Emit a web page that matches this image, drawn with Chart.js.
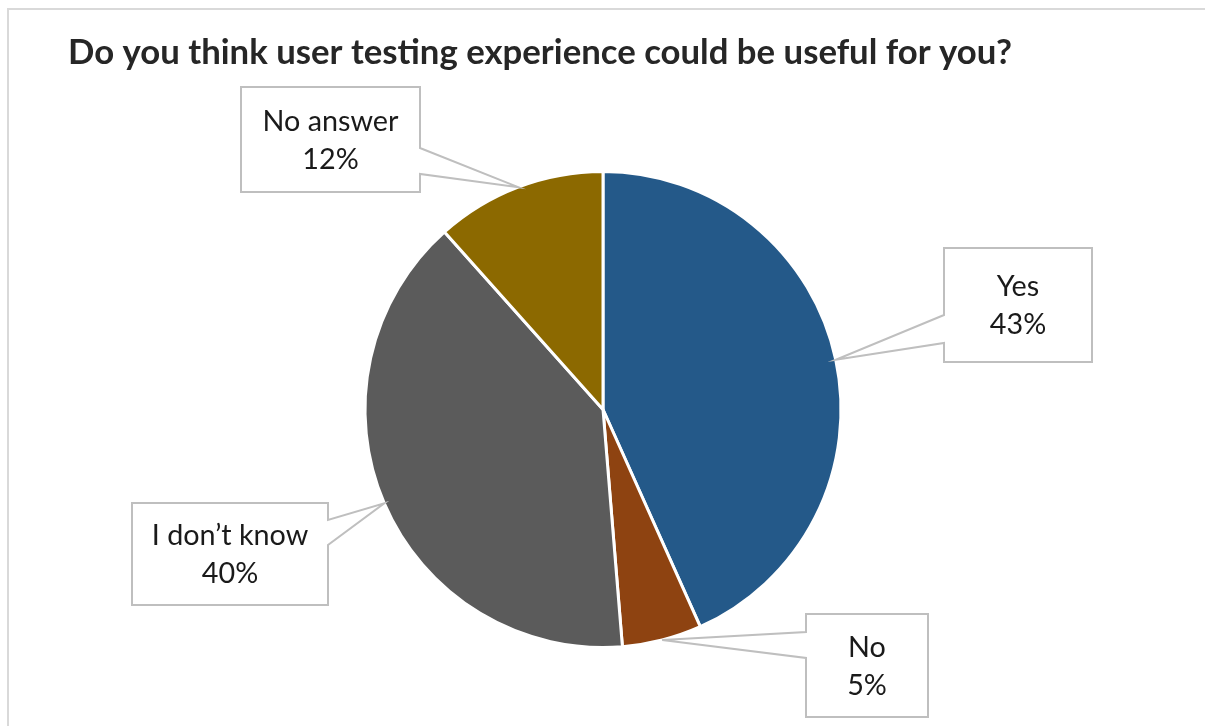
<!DOCTYPE html>
<html>
<head>
<meta charset="utf-8">
<script src="https://cdn.jsdelivr.net/npm/chart.js@4/dist/chart.umd.min.js"></script>
<style>
  html, body { margin: 0; padding: 0; background: #ffffff; }
  canvas { display: block; }
</style>
</head>
<body>
<canvas id="c" width="1205" height="726"></canvas>
<script>
// ---- data ----
const chartTitle = 'Do you think user testing experience could be useful for you?';
const categories = ['Yes', 'No', 'I don\u2019t know', 'No answer'];
const shares = [43.3, 5.4, 39.7, 11.6];
const sliceColors = ['#245989', '#8E4311', '#5B5B5B', '#8C6900'];

// ---- callout box layout (pixels) ----
const calloutLayout = [
  { x: 944, y: 248, w: 148, h: 114, side: 'left',  b0: 315, b1: 343 },
  { x: 806, y: 614, w: 122, h: 103, side: 'left',  b0: 632, b1: 658 },
  { x: 132, y: 503, w: 196, h: 102, side: 'right', b0: 520, b1: 545 },
  { x: 241, y: 87,  w: 179, h: 105, side: 'right', b0: 148, b1: 174 }
];

const FONT = 'Lato, "Open Sans", "DejaVu Sans", sans-serif';

function fitSize(ctx, text, weight, target, base) {
  ctx.font = weight + ' ' + base + 'px ' + FONT;
  const w = ctx.measureText(text).width;
  return base * target / w;
}

const decor = {
  id: 'decor',
  afterDraw(chart) {
    const ctx = chart.ctx;
    ctx.save();
    // outer frame
    ctx.strokeStyle = '#D9D9D9';
    ctx.lineWidth = 2;
    ctx.strokeRect(8, 9, 1210, 740);

    // title
    const ts = fitSize(ctx, chartTitle, 'bold', 944, 30);
    ctx.font = 'bold ' + ts.toFixed(2) + 'px ' + FONT;
    ctx.fillStyle = '#262626';
    ctx.textAlign = 'left';
    ctx.textBaseline = 'middle';
    ctx.fillText(chartTitle, 68, 53);

    // callouts
    const meta = chart.getDatasetMeta(0);
    const totalSum = shares.reduce((a, b) => a + b, 0);
    const ls = fitSize(ctx, 'No answer', 'normal', 136, 26);
    meta.data.forEach((arc, i) => {
      const p = arc.getProps(['x', 'y', 'startAngle', 'endAngle', 'outerRadius'], true);
      const mid = (p.startAngle + p.endAngle) / 2;
      const tx = p.x + Math.cos(mid) * p.outerRadius;
      const ty = p.y + Math.sin(mid) * p.outerRadius;
      const L = calloutLayout[i];
      ctx.beginPath();
      if (L.side === 'left') {
        ctx.moveTo(L.x, L.y);
        ctx.lineTo(L.x + L.w, L.y);
        ctx.lineTo(L.x + L.w, L.y + L.h);
        ctx.lineTo(L.x, L.y + L.h);
        ctx.lineTo(L.x, L.b1);
        ctx.lineTo(tx, ty);
        ctx.lineTo(L.x, L.b0);
      } else {
        ctx.moveTo(L.x, L.y);
        ctx.lineTo(L.x + L.w, L.y);
        ctx.lineTo(L.x + L.w, L.b0);
        ctx.lineTo(tx, ty);
        ctx.lineTo(L.x + L.w, L.b1);
        ctx.lineTo(L.x + L.w, L.y + L.h);
        ctx.lineTo(L.x, L.y + L.h);
      }
      ctx.closePath();
      ctx.fillStyle = '#FFFFFF';
      ctx.fill();
      ctx.strokeStyle = '#BFBFBF';
      ctx.lineWidth = 2;
      ctx.lineJoin = 'miter';
      ctx.stroke();

      const pct = Math.round(shares[i] / totalSum * 100) + '%';
      ctx.font = 'normal ' + ls.toFixed(2) + 'px ' + FONT;
      ctx.fillStyle = '#1A1A1A';
      ctx.textAlign = 'center';
      ctx.textBaseline = 'middle';
      const cx = L.x + L.w / 2;
      const cy = L.y + L.h / 2 + 1;
      ctx.fillText(categories[i], cx, cy - 19);
      ctx.fillText(pct, cx, cy + 19);
    });
    ctx.restore();
  }
};

new Chart(document.getElementById('c'), {
  type: 'pie',
  data: {
    labels: categories,
    datasets: [{
      data: shares,
      backgroundColor: sliceColors,
      borderColor: '#FFFFFF',
      borderWidth: 3
    }]
  },
  options: {
    responsive: false,
    animation: false,
    devicePixelRatio: 1,
    layout: { padding: { left: 363, right: 362, top: 170, bottom: 77 } },
    plugins: {
      legend: { display: false },
      tooltip: { enabled: false },
      title: { display: false }
    }
  },
  plugins: [decor]
});
</script>
</body>
</html>
